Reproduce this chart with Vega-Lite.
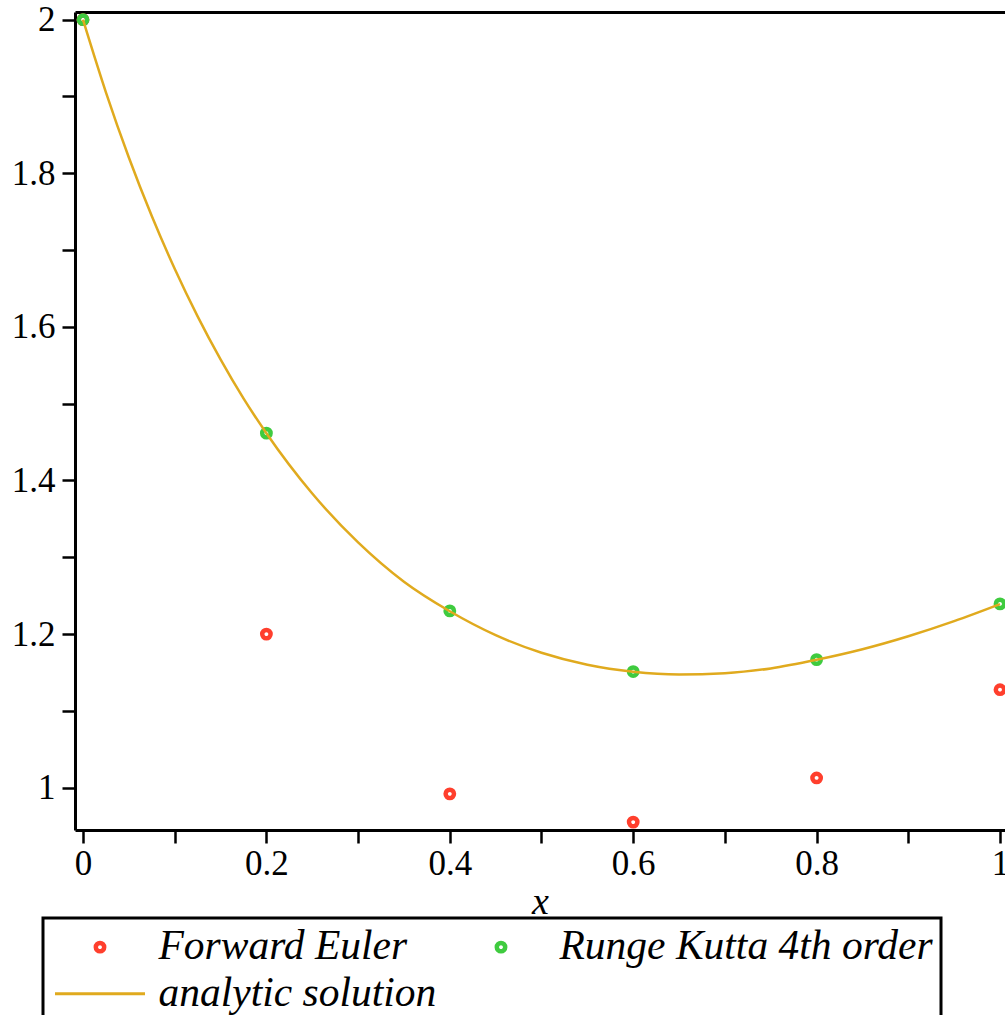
{
  "$schema": "https://vega.github.io/schema/vega-lite/v6.json",
  "width": 930,
  "height": 818,
  "autosize": "none",
  "padding": {"left": 75, "top": 12, "right": 0, "bottom": 185},
  "background": "white",
  "config": {"view": {"stroke": null}, "axis": {"grid": false}},
  "data": {
    "values": [
      {"series": "Forward Euler", "x": 0, "y": 2.0},
      {"series": "Forward Euler", "x": 0.2, "y": 1.2},
      {"series": "Forward Euler", "x": 0.4, "y": 0.992},
      {"series": "Forward Euler", "x": 0.6, "y": 0.9552},
      {"series": "Forward Euler", "x": 0.8, "y": 1.0127},
      {"series": "Forward Euler", "x": 1.0, "y": 1.1276},
      {"series": "Runge Kutta 4th order", "x": 0, "y": 2.0},
      {"series": "Runge Kutta 4th order", "x": 0.2, "y": 1.4616},
      {"series": "Runge Kutta 4th order", "x": 0.4, "y": 1.2302},
      {"series": "Runge Kutta 4th order", "x": 0.6, "y": 1.1512},
      {"series": "Runge Kutta 4th order", "x": 0.8, "y": 1.1668},
      {"series": "Runge Kutta 4th order", "x": 1.0, "y": 1.2393},
      {"series": "analytic solution", "x": 0, "y": 2.0},
      {"series": "analytic solution", "x": 0.025, "y": 1.9054},
      {"series": "analytic solution", "x": 0.05, "y": 1.8205},
      {"series": "analytic solution", "x": 0.075, "y": 1.7443},
      {"series": "analytic solution", "x": 0.1, "y": 1.6757},
      {"series": "analytic solution", "x": 0.125, "y": 1.6137},
      {"series": "analytic solution", "x": 0.15, "y": 1.5577},
      {"series": "analytic solution", "x": 0.175, "y": 1.5069},
      {"series": "analytic solution", "x": 0.2, "y": 1.4615},
      {"series": "analytic solution", "x": 0.25, "y": 1.383},
      {"series": "analytic solution", "x": 0.3, "y": 1.3194},
      {"series": "analytic solution", "x": 0.35, "y": 1.2682},
      {"series": "analytic solution", "x": 0.4, "y": 1.2297},
      {"series": "analytic solution", "x": 0.45, "y": 1.1986},
      {"series": "analytic solution", "x": 0.5, "y": 1.1757},
      {"series": "analytic solution", "x": 0.55, "y": 1.1601},
      {"series": "analytic solution", "x": 0.6, "y": 1.151},
      {"series": "analytic solution", "x": 0.65, "y": 1.1475},
      {"series": "analytic solution", "x": 0.7, "y": 1.1491},
      {"series": "analytic solution", "x": 0.75, "y": 1.1553},
      {"series": "analytic solution", "x": 0.8, "y": 1.1665},
      {"series": "analytic solution", "x": 0.85, "y": 1.1802},
      {"series": "analytic solution", "x": 0.9, "y": 1.1971},
      {"series": "analytic solution", "x": 0.95, "y": 1.2168},
      {"series": "analytic solution", "x": 1.0, "y": 1.239}
    ]
  },
  "layer": [
    {
      "transform": [{"filter": "datum.series !== 'analytic solution'"}],
      "mark": {"type": "point", "shape": "circle", "filled": false, "size": 70, "strokeWidth": 4.5, "opacity": 1},
      "encoding": {
        "x": {
          "field": "x", "type": "quantitative",
          "scale": {"domain": [-0.00872, 1.00545], "nice": false, "zero": false},
          "axis": {"orient": "top", "domain": true, "domainColor": "black", "domainWidth": 3, "ticks": false, "labels": false, "title": null, "grid": false}
        },
        "y": {"field": "y", "type": "quantitative"},
        "color": {"field": "series", "type": "nominal"}
      }
    },
    {
      "transform": [{"filter": "datum.series === 'analytic solution'"}],
      "mark": {"type": "line", "strokeWidth": 2.5, "interpolate": "monotone"},
      "encoding": {
        "x": {
          "field": "x", "type": "quantitative",
          "scale": {"domain": [-0.00872, 1.00545], "nice": false, "zero": false},
          "axis": {
            "orient": "bottom",
            "values": [0, 0.1, 0.2, 0.3, 0.4, 0.5, 0.6, 0.7, 0.8, 0.9, 1],
            "domain": true, "domainColor": "black", "domainWidth": 3,
            "ticks": true, "tickColor": "black", "tickWidth": 2.5, "tickSize": 13,
            "labelFont": "Liberation Serif", "labelFontSize": 35, "labelColor": "black", "labelPadding": 3,
            "labelExpr": "round(datum.value*10)%2 === 1 ? '' : format(datum.value, '~g')",
            "labelOverlap": false, "labelFlush": false, "labelBound": false,
            "title": "x", "titleFont": "Liberation Serif", "titleFontStyle": "italic", "titleFontWeight": "normal",
            "titleFontSize": 38, "titleColor": "black", "titlePadding": 2,
            "grid": false,
            "encode": {"ticks": {"update": {"y2": {"signal": "round(datum.value*10)%2 === 1 ? 6 : 13"}}}}
          }
        },
        "y": {
          "field": "y", "type": "quantitative",
          "scale": {"domain": [0.9449, 2.01], "nice": false, "zero": false},
          "axis": {
            "orient": "left",
            "values": [1, 1.1, 1.2, 1.3, 1.4, 1.5, 1.6, 1.7, 1.8, 1.9, 2],
            "domain": true, "domainColor": "black", "domainWidth": 3,
            "ticks": true, "tickColor": "black", "tickWidth": 2.5, "tickSize": 13,
            "labelFont": "Liberation Serif", "labelFontSize": 35, "labelColor": "black", "labelPadding": 7,
            "labelExpr": "round(datum.value*10)%2 === 1 ? '' : format(datum.value, '~g')",
            "labelOverlap": false, "labelFlush": false, "labelBound": false,
            "title": null, "grid": false,
            "encode": {"ticks": {"update": {"x2": {"signal": "round(datum.value*10)%2 === 1 ? -6 : -13"}}}}
          }
        },
        "color": {
          "field": "series", "type": "nominal",
          "scale": {"domain": ["Forward Euler", "Runge Kutta 4th order", "analytic solution"], "range": ["#ff3f2d", "#3fcb3f", "#e0aa1e"]},
          "legend": {
            "orient": "none", "legendX": -32, "legendY": 906,
            "columns": 2, "direction": "horizontal",
            "title": null,
            "strokeColor": "black", "padding": 8,
            "labelFont": "Liberation Serif", "labelFontStyle": "italic", "labelFontSize": 41.5, "labelColor": "black",
            "labelLimit": 1000, "labelOffset": 66,
            "columnPadding": 15, "rowPadding": 4,
            "symbolSize": 8100,
            "encode": {
              "legend": {"update": {"stroke": {"value": "black"}, "strokeWidth": {"value": 3}}},
              "symbols": {
                "update": {
                  "x": {"value": 49},
                  "shape": {"signal": "datum.value === 'analytic solution' ? 'stroke' : 'circle'"},
                  "size": {"signal": "datum.value === 'analytic solution' ? 8100 : 70"},
                  "strokeWidth": {"signal": "datum.value === 'analytic solution' ? 3 : 4.5"},
                  "fill": {"value": "transparent"},
                  "opacity": {"value": 1}
                }
              }
            }
          }
        }
      }
    }
  ],
  "resolve": {"axis": {"x": "independent"}}
}
